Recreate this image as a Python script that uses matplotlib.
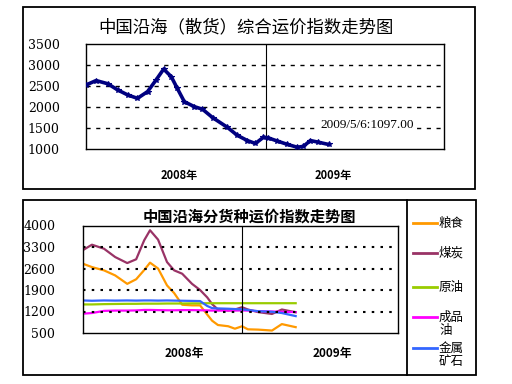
import pandas as pd
from matplotlib import pyplot as plt
from matplotlib.patches import Rectangle
from matplotlib.lines import Line2D

plt.rcParams['font.family'] = ['Noto Sans CJK SC', 'DejaVu Sans']

# --- top chart: coastal bulk composite freight index
top_dates = ['2008-01-11', '2008-01-31', '2008-02-23', '2008-03-14', '2008-04-03',
             '2008-04-22', '2008-05-12', '2008-05-29', '2008-06-13', '2008-06-28',
             '2008-07-10', '2008-07-24', '2008-08-13', '2008-08-29', '2008-09-18',
             '2008-10-17', '2008-11-06', '2008-11-26', '2008-12-12', '2008-12-28',
             '2009-01-05', '2009-01-24', '2009-02-13', '2009-03-05', '2009-03-17',
             '2009-03-31', '2009-04-16', '2009-05-06']
top_values = [2520, 2625, 2550, 2400, 2280, 2200, 2360, 2640, 2900, 2720,
              2440, 2120, 2000, 1940, 1740, 1510, 1315, 1190, 1120, 1270,
              1260, 1180, 1100, 1030, 1050, 1190, 1150, 1097]
top_yticks = [1000, 1500, 2000, 2500, 3000, 3500]

# --- bottom chart: index by cargo type
bot_dates = ['2008-01-11', '2008-01-31', '2008-02-27', '2008-03-23', '2008-04-19',
             '2008-05-09', '2008-05-27', '2008-06-09', '2008-06-27', '2008-07-17',
             '2008-08-02', '2008-08-20', '2008-09-11', '2008-09-29', '2008-10-15',
             '2008-10-26', '2008-11-08', '2008-12-01', '2008-12-16', '2009-01-01',
             '2009-01-14', '2009-02-06', '2009-03-09', '2009-03-31', '2009-05-01']
grain = [2754, 2646, 2539, 2375, 2100, 2250, 2550, 2790, 2600, 2050,
         1800, 1420, 1400, 1400, 1100, 900, 760, 720, 640, 720,
         620, 610, 580, 790, 690]
coal = [3200, 3375, 3244, 2973, 2777, 2900, 3520, 3845, 3540, 2810,
        2540, 2430, 2100, 1900, 1660, 1440, 1265, 1232, 1265, 1340,
        1265, 1180, 1120, 1265, 1176]
crude = [1430, 1430, 1440, 1445, 1450, 1450, 1455, 1455, 1455, 1460,
         1460, 1460, 1465, 1465, 1470, 1470, 1470, 1470, 1470, 1470,
         1470, 1470, 1470, 1470, 1470]
refined = [1130, 1150, 1220, 1230, 1230, 1235, 1250, 1250, 1245, 1240,
           1240, 1245, 1245, 1240, 1235, 1230, 1230, 1230, 1230, 1235,
           1230, 1210, 1200, 1190, 1180]
ore = [1560, 1550, 1560, 1555, 1560, 1555, 1560, 1560, 1555, 1560,
       1555, 1550, 1545, 1540, 1380, 1310, 1300, 1290, 1280, 1270,
       1250, 1210, 1190, 1150, 1050]
bot_yticks = [500, 1200, 1900, 2600, 3300, 4000]

names = ['粮食', '煤炭', '原油', '成品\n油', '金属\n矿石']
colors = ['#FF9900', '#993366', '#99CC00', '#FF00FF', '#3366FF']
series = [grain, coal, crude, refined, ore]

fig = plt.figure(figsize=(5.12, 3.84), dpi=100)

# outer frames
def frame(x0, y0, x1, y1):
    fig.patches.append(Rectangle((x0 / 512, 1 - y1 / 384), (x1 - x0) / 512, (y1 - y0) / 384,
                                 transform=fig.transFigure, fill=False, ec='black', lw=1.3))
frame(23, 7, 475, 189)
frame(23, 200, 476, 375)
fig.lines.append(Line2D([407 / 512, 407 / 512], [1 - 200 / 384, 1 - 375 / 384],
                        transform=fig.transFigure, color='black', lw=1.3))

yr = pd.Timestamp('2009-01-01')

# top chart
ax1 = fig.add_axes([86 / 512, 1 - 148.5 / 384, 358 / 512, 104.5 / 384])
ax1.plot(pd.to_datetime(top_dates), top_values, color='#000080', lw=2.6,
         marker='*', ms=4, mew=0.8, zorder=3)
ax1.set_xlim(pd.Timestamp('2008-01-11'), pd.Timestamp('2009-12-21'))
ax1.set_ylim(1000, 3500)
ax1.set_yticks(top_yticks)
ax1.set_yticklabels([str(v) for v in top_yticks], family='DejaVu Serif', fontsize=9)
for v in top_yticks[1:-1]:
    ax1.axhline(v, color='black', lw=1, ls=(0, (3, 4)))
ax1.axvline(yr, color='black', lw=0.8)
ax1.set_xticks([pd.Timestamp('2008-07-14'), pd.Timestamp('2009-05-16')])
ax1.set_xticklabels(['2008年', '2009年'], fontsize=8, fontweight='bold')
ax1.tick_params(length=0, axis='y', pad=19)
ax1.tick_params(length=0, axis='x', pad=15)
ax1.text(pd.Timestamp('2009-04-20'), 1570, '2009/5/6:1097.00', family='Liberation Serif',
         fontsize=9.5, va='center', ha='left', zorder=4,
         bbox=dict(facecolor='white', edgecolor='none', pad=1.5))
fig.text(246 / 512, 1 - 27 / 384, '中国沿海（散货）综合运价指数走势图', ha='center', va='center',
         fontsize=12.5, fontweight='medium')

# bottom chart
ax2 = fig.add_axes([83 / 512, 1 - 333 / 384, 315 / 512, 107.5 / 384])
for vals, c in zip(series, colors):
    ax2.plot(pd.to_datetime(bot_dates), vals, color=c, lw=1.6)
ax2.set_xlim(pd.Timestamp('2008-01-11'), pd.Timestamp('2009-12-16'))
ax2.set_ylim(500, 4000)
ax2.set_yticks(bot_yticks)
ax2.set_yticklabels([str(v) for v in bot_yticks], family='DejaVu Serif', fontsize=9)
for v in bot_yticks[1:-1]:
    ax2.axhline(v, color='black', lw=1.5, ls=(0, (1.2, 3)))
ax2.axvline(yr, color='black', lw=0.8)
ax2.set_xticks([pd.Timestamp('2008-08-25'), pd.Timestamp('2009-07-23')])
ax2.set_xticklabels(['2008年', '2009年'], fontsize=8.5, fontweight='bold')
ax2.tick_params(length=0, axis='y', pad=20)
ax2.tick_params(length=0, axis='x', pad=10)
fig.text(249 / 512, 1 - 216.5 / 384, '中国沿海分货种运价指数走势图', ha='center', va='center',
         fontsize=11, fontweight='bold')

# legend
leg_y = [223, 253, 287, 324, 355]
for name, c, y in zip(names, colors, leg_y):
    ly = y if '\n' not in name else y - 7
    fig.lines.append(Line2D([413 / 512, 437 / 512], [1 - ly / 384] * 2,
                            transform=fig.transFigure, color=c, lw=2))
    fig.text(439 / 512, 1 - y / 384, name, fontsize=9, va='center', ha='left', linespacing=0.95)

for ax in (ax1, ax2):
    for s in ax.spines.values():
        s.set_linewidth(1)

fig.savefig('out.png', dpi=100)
